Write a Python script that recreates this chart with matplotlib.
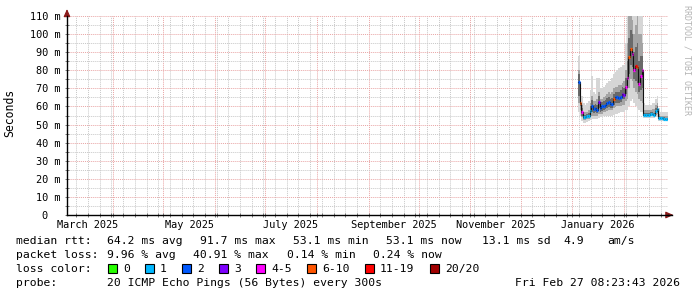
import datetime as dt

import matplotlib

matplotlib.use("Agg")
import matplotlib.dates as mdates
import matplotlib.pyplot as plt
from matplotlib.patches import Rectangle

plt.rcParams["font.family"] = ["DejaVu Sans Mono"]

W, H = 697, 297

start = dt.datetime(2025, 3, 4, 8, 23, 43)
end = dt.datetime(2026, 2, 27, 8, 23, 43)
first_day = dt.datetime(2026, 1, 4, 12, 0)

month_labels = ["March 2025", "May 2025", "July 2025",
                "September 2025", "November 2025", "January 2026"]

loss_labels = ["0", "1", "2", "3", "4-5", "6-10", "11-19", "20/20"]
loss_colors = ["#26ff00", "#00b8ff", "#0059ff", "#7e00ff",
               "#ff00ff", "#ff5500", "#ff0000", "#a10000"]

# daily median rtt (ms) and loss bin index, Jan 4 .. Feb 26 2026
median = [73.5, 62, 57, 54, 54, 54.5, 55, 57.5, 60.5, 58.5,
          59, 58, 62.5, 59, 60, 60.5, 61, 62, 62.5, 61.5,
          61.5, 64, 65, 65, 64.5, 65.5, 67, 66.5, 71, 75.5,
          87.5, 91.7, 89, 80, 82.5, 82, 72.5, 77, 80, 55.5,
          55.5, 55.3, 55.5, 55.8, 56, 55.2, 57.5, 58.5, 53.8, 53.5,
          53.5, 53.3, 53.1, 53.1]
loss = [2, 5, 4, 1, 1, 1, 1, 1, 2, 2,
        2, 2, 3, 2, 2, 2, 2, 2, 2, 2,
        2, 5, 2, 2, 2, 2, 3, 3, 4, 4,
        5, 5, 4, 4, 6, 5, 4, 4, 4, 1,
        1, 1, 1, 1, 1, 1, 1, 1, 1, 1,
        1, 1, 1, 1]

# smoke envelopes (ms): outer, middle and core bands
smoke_lo = [57, 55, 52, 51, 51, 51.5, 52, 52.5, 53, 53,
            53, 53, 53.5, 54, 54, 54.5, 55, 55, 55, 55,
            55, 55.5, 56, 56, 56.5, 57, 57, 57, 58, 58,
            60, 63, 64, 62, 60, 59, 58, 57, 57, 53.5,
            53.5, 53.5, 53.5, 53.5, 53.5, 53.5, 54, 54, 52, 52,
            52, 52, 52, 52]
smoke_hi = [88, 70, 66, 62, 61, 62, 63, 69, 77, 68,
            67, 76, 76, 70, 70, 71, 72, 73, 74, 74,
            76, 78, 79, 80, 81, 82, 83, 83, 95, 115,
            115, 115, 115, 115, 115, 115, 115, 115, 112, 62,
            61, 61, 61, 61, 62, 62, 64, 66, 59, 57,
            57, 57, 57, 57]
smoke_lo_mid = [62, 58, 54, 52.5, 52.5, 53, 53, 54, 55, 55,
                55, 55, 56, 56, 56, 57, 57, 57.5, 58, 58,
                58, 59, 59.5, 60, 60, 60, 61, 61, 63, 64,
                70, 75, 74, 70, 68, 67, 64, 63, 62, 54.5,
                54.5, 54.5, 54.5, 54.5, 54.5, 54.5, 55.5, 56, 53, 52.8,
                52.8, 52.8, 52.8, 52.8]
smoke_hi_mid = [80, 66, 61, 57, 57, 57, 58, 62, 66, 63,
                63, 64, 68, 64, 64, 65, 66, 67, 68, 67,
                68, 70, 71, 71, 72, 72, 73, 74, 80, 95,
                110, 110, 108, 100, 105, 110, 100, 100, 95, 58,
                58, 58, 58, 58, 58.5, 58.5, 61, 62, 56, 55,
                55, 55, 55, 55]
smoke_lo_core = [66, 60, 55, 53, 53, 53.5, 54, 55.5, 57, 56.5,
                 57, 56.5, 59, 57, 57.5, 58, 58.5, 59, 59.5, 59,
                 59, 61, 62, 62, 62, 62.5, 64, 64, 67, 70,
                 78, 83, 82, 75, 74, 73, 68, 69, 70, 55,
                 55, 54.8, 55, 55.2, 55.3, 54.8, 56.5, 57.5, 53.3, 53.1,
                 53.1, 53, 52.9, 52.9]
smoke_hi_core = [78, 64, 59, 55.5, 55.5, 56, 56.5, 60, 63.5, 61,
                 61.5, 61, 66, 61.5, 62.5, 63, 63.5, 64.5, 65, 64,
                 64.5, 67, 68, 68, 68, 69, 70.5, 70, 76, 85,
                 98, 102, 100, 90, 93, 95, 85, 88, 88, 56.5,
                 56.5, 56.3, 56.5, 56.8, 57.2, 56.5, 59, 60, 54.6, 54.2,
                 54.2, 54, 53.8, 53.8]

stats = [
    ("median rtt:", [(107, "64.2 ms avg"), (200, "91.7 ms max"),
                     (293, "53.1 ms min"), (386, "53.1 ms now"),
                     (482, "13.1 ms sd"), (563, "4.9"), (607, "am/s")]),
    ("packet loss:", [(107, "9.96 % avg"), (193, "40.91 % max"),
                      (287, "0.14 % min"), (373, "0.24 % now")]),
]
probe_text = "20 ICMP Echo Pings (56 Bytes) every 300s"
stamp_text = "Fri Feb 27 08:23:43 2026"

fig = plt.figure(figsize=(W / 100, H / 100), dpi=100)
fig.patch.set_facecolor("white")
ax = fig.add_axes([67 / W, (H - 215) / H, 601 / W, 199 / H])

n = len(median)
days = [first_day + dt.timedelta(days=i) for i in range(n + 1)]


def ext(v):
    return list(v) + [v[-1]]


ax.fill_between(days, ext(smoke_lo), ext(smoke_hi), step="post",
                color="#d6d6d6", lw=0, zorder=2)
ax.fill_between(days, ext(smoke_lo_mid), ext(smoke_hi_mid), step="post",
                color="#a4a4a4", lw=0, zorder=3)
ax.fill_between(days, ext(smoke_lo_core), ext(smoke_hi_core), step="post",
                color="#6a6a6a", lw=0, zorder=3)
ax.step(days, ext(median), where="post", color="#111111", lw=0.8, zorder=4)
for i in range(n):
    ax.hlines(median[i], days[i], days[i + 1], color=loss_colors[loss[i]],
              lw=2.3, zorder=5)

ax.set_xlim(start, end)
ax.set_ylim(0, 110)

ax.xaxis.set_major_locator(mdates.MonthLocator())
ax.xaxis.set_minor_locator(mdates.WeekdayLocator(byweekday=mdates.MO))
ax.xaxis.set_major_formatter(plt.NullFormatter())
ax.set_yticks(range(0, 111, 10))
ax.set_yticks(range(5, 110, 10), minor=True)
ax.set_yticklabels([f"{v} m" if v else "0  " for v in range(0, 111, 10)])

ax.grid(which="minor", color="#c8c8c8", lw=0.7, ls=(0, (1, 1)), zorder=1)
ax.grid(which="major", color="#e9a5a5", lw=0.7, ls=(0, (1, 1)), zorder=1)
ax.set_axisbelow(True)

ax.tick_params(which="both", direction="inout", length=3, width=0.6,
               color="#666666", labelsize=7.4, pad=3)

for s in ("top", "right"):
    ax.spines[s].set_visible(False)
for s in ("left", "bottom"):
    ax.spines[s].set_color("black")
    ax.spines[s].set_linewidth(1)
    ax.spines[s].set_zorder(6)

# axis arrows
arrow_c = "#8b1a1a"
ax.annotate("", xy=(1.009, 0), xytext=(0.999, 0), xycoords="axes fraction",
            arrowprops=dict(arrowstyle="-|>,head_length=0.45,head_width=0.2",
                            color=arrow_c, lw=0.8, shrinkA=0, shrinkB=0),
            annotation_clip=False)
ax.plot([1, 1.006], [0, 0], color="black", lw=1, transform=ax.transAxes,
        clip_on=False, zorder=6)
ax.annotate("", xy=(0, 1.035), xytext=(0, 1.0), xycoords="axes fraction",
            arrowprops=dict(arrowstyle="-|>,head_length=0.45,head_width=0.2",
                            color=arrow_c, lw=0.8, shrinkA=0, shrinkB=0),
            annotation_clip=False)

# month labels centred on the month
for lab in month_labels:
    m0 = dt.datetime.strptime(lab, "%B %Y")
    m1 = (m0 + dt.timedelta(days=32)).replace(day=1)
    mid = m0 + (m1 - m0) / 2
    ax.text(mid, -9.5 / 199, lab, transform=ax.get_xaxis_transform(),
            ha="center", va="center", fontsize=7.4)

fig.text(10 / W, 1 - 113 / H, "Seconds", rotation=90, ha="center",
         va="center", fontsize=8.3)
fig.text(687 / W, 1 - 60 / H, "RRDTOOL / TOBI OETIKER", rotation=270,
         ha="center", va="center", fontsize=6, color="#b4b4b4")


def ftext(x, y, s, **kw):
    fig.text(x / W, 1 - y / H, s, va="center", fontsize=8.2, **kw)


rows = [241, 255]
for (head, parts), y in zip(stats, rows):
    ftext(16, y, head)
    for x, s in parts:
        ftext(x, y, s)

ftext(16, 269, "loss color:")
sw_x = [108, 145, 182, 219, 256, 307, 365, 430]
for x, lab, col in zip(sw_x, loss_labels, loss_colors):
    fig.add_artist(Rectangle((x / W, (H - 273) / H), 9 / W, 9 / H,
                             transform=fig.transFigure, facecolor=col,
                             edgecolor="black", lw=0.8))
    ftext(x + 15, 269, lab)

ftext(16, 283, "probe:")
ftext(107, 283, probe_text)
ftext(680, 283, stamp_text, ha="right")

fig.savefig("out.png", dpi=100)
